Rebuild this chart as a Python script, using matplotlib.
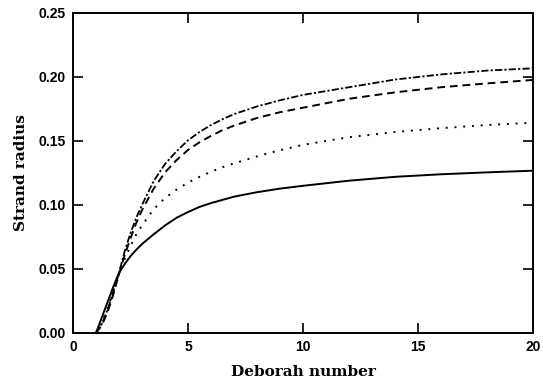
import matplotlib
matplotlib.use("Agg")
import matplotlib.pyplot as plt

x = [1.0, 1.25, 1.5, 1.75, 2.0, 2.25, 2.5, 2.75, 3.0, 3.5, 4.0, 4.5, 5.0, 5.5, 6.0, 6.5, 7.0, 8.0, 9.0, 10.0, 12.0, 14.0, 16.0, 18.0, 20.0]
solid = [0.0, 0.012, 0.024, 0.036, 0.047, 0.054, 0.060, 0.065, 0.0695, 0.077, 0.084, 0.090, 0.0945, 0.0985, 0.1015, 0.104, 0.1065, 0.1100, 0.1128, 0.115, 0.119, 0.122, 0.124, 0.1255, 0.1268]
dotted = [0.0, 0.008, 0.019, 0.032, 0.046, 0.058, 0.068, 0.077, 0.084, 0.0965, 0.1055, 0.112, 0.1175, 0.122, 0.126, 0.1295, 0.1325, 0.1380, 0.1428, 0.147, 0.153, 0.157, 0.160, 0.1625, 0.1643]
dashed = [0.0, 0.006, 0.016, 0.030, 0.046, 0.061, 0.074, 0.086, 0.096, 0.1125, 0.1255, 0.135, 0.1430, 0.149, 0.154, 0.1585, 0.1620, 0.1680, 0.1725, 0.176, 0.183, 0.188, 0.192, 0.195, 0.1977]
dashdot = [0.0, 0.007, 0.018, 0.032, 0.047, 0.064, 0.078, 0.090, 0.100, 0.1185, 0.1320, 0.142, 0.1505, 0.157, 0.1625, 0.167, 0.1710, 0.1770, 0.1818, 0.186, 0.192, 0.198, 0.202, 0.205, 0.2068]

xticks = [0, 5, 10, 15, 20]
yticks = [0.00, 0.05, 0.10, 0.15, 0.20, 0.25]

fig = plt.figure(figsize=(5.43, 3.84), dpi=100)
ax = fig.add_axes([73/543, 51/384, 460/543, 320/384])

ax.plot(x, solid, color="black", lw=1.4, linestyle="-")
ax.plot(x, dotted, color="black", lw=1.4, linestyle=(0, (1, 3.5)))
ax.plot(x, dashed, color="black", lw=1.4, linestyle=(0, (4, 2.5)))
ax.plot(x, dashdot, color="black", lw=1.3, linestyle=(0, (4, 1.2, 1.2, 1.2)))

ax.set_xlim(0, 20)
ax.set_ylim(0, 0.25)
ax.set_xticks(xticks)
ax.set_yticks(yticks)
ax.set_xticklabels([str(t) for t in xticks])
ax.set_yticklabels([f"{t:.2f}" for t in yticks])
ax.tick_params(direction="in", top=True, right=True, length=7, width=1.2, pad=5)
for lab in ax.get_xticklabels() + ax.get_yticklabels():
    lab.set_fontfamily("Liberation Sans")
    lab.set_fontweight("bold")
    lab.set_fontsize(10)
for sp in ax.spines.values():
    sp.set_linewidth(1.4)

ax.set_xlabel("Deborah number", fontfamily="DejaVu Serif", fontweight="bold", fontsize=11, labelpad=8)
ax.set_ylabel("Strand radius", fontfamily="DejaVu Serif", fontweight="bold", fontsize=11, labelpad=8)

fig.savefig("out.png", dpi=100)
